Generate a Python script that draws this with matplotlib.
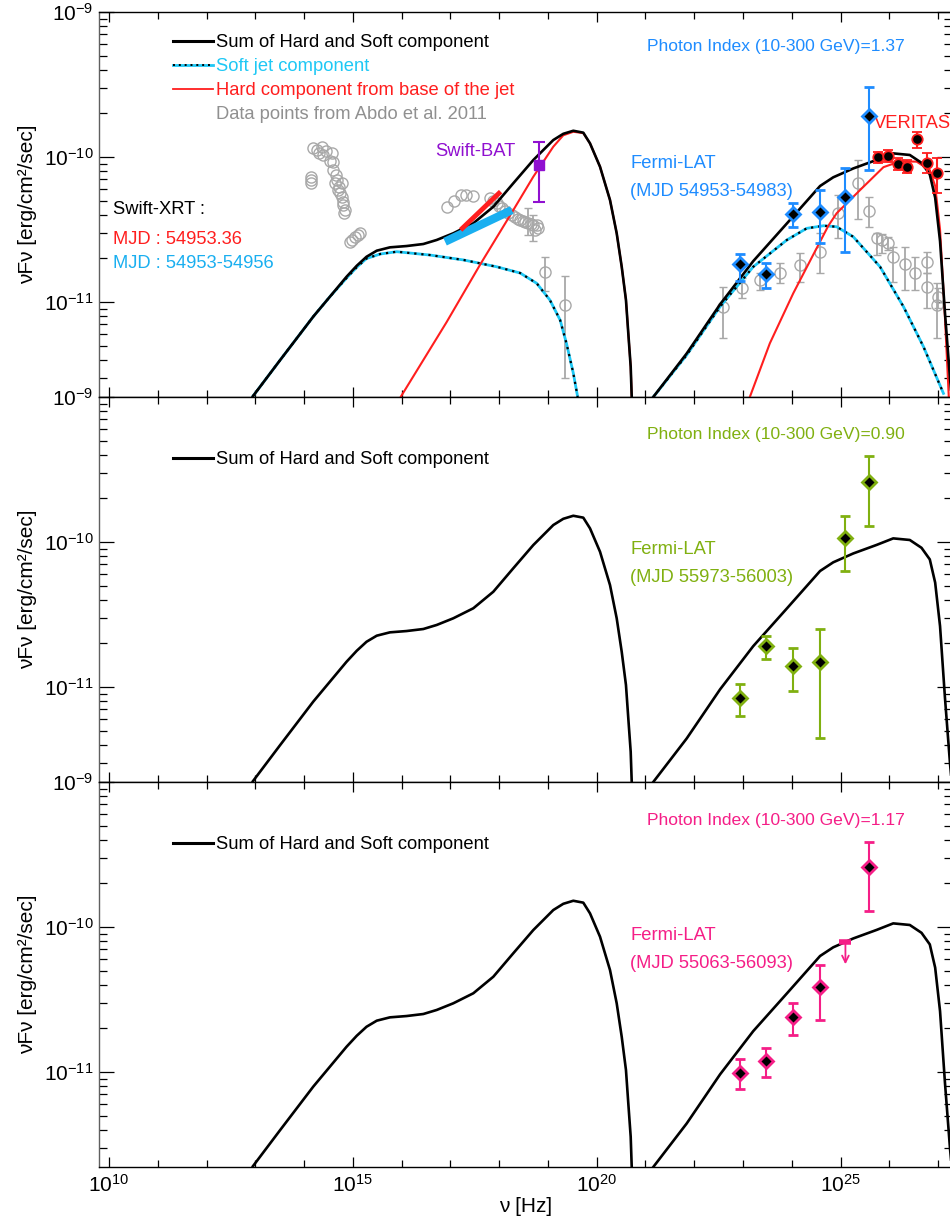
import numpy as np
import matplotlib
matplotlib.use("Agg")
import matplotlib.pyplot as plt
from matplotlib.lines import Line2D
from matplotlib.legend_handler import HandlerTuple
from matplotlib.ticker import FixedLocator, LogFormatterMathtext, NullFormatter

plt.rcParams['font.family'] = ['Liberation Sans', 'DejaVu Sans']
plt.rcParams['mathtext.fontset'] = 'custom'
plt.rcParams['mathtext.rm'] = 'Liberation Sans'
plt.rcParams['mathtext.it'] = 'Liberation Sans:italic'
plt.rcParams['mathtext.bf'] = 'Liberation Sans:bold'
plt.rcParams['axes.unicode_minus'] = False

# ---------------- data (log10 nu [Hz], log10 nuFnu [erg/cm2/s]) ----------------
# model: sum of hard and soft component
sum_sync_lognu = [12.95, 13.51, 13.85, 14.19, 14.53, 14.87, 15.08, 15.28, 15.49, 15.76, 16.10, 16.445,
                  16.72, 17.06, 17.47, 17.88, 18.29, 18.70, 19.11, 19.315, 19.52, 19.725, 19.863,
                  20.068, 20.273, 20.41, 20.513, 20.60, 20.648, 20.697, 20.718]
sum_sync_logf = [-11.65, -11.40, -11.25, -11.10, -10.963, -10.826, -10.75, -10.688, -10.646, -10.623,
                 -10.614, -10.60, -10.572, -10.526, -10.457, -10.343, -10.181, -10.021, -9.883, -9.84,
                 -9.819, -9.832, -9.906, -10.067, -10.297, -10.526, -10.757, -10.986, -11.216, -11.446,
                 -11.653]
sum_ssc_lognu = [21.16, 21.845, 22.53, 23.21, 23.90, 24.58, 24.85, 25.26, 25.74, 26.08, 26.42, 26.66,
                 26.83, 26.94, 27.04, 27.14, 27.245, 27.28]
sum_ssc_logf = [-11.655, -11.355, -11.016, -10.718, -10.458, -10.20, -10.14, -10.079, -10.02, -9.975,
                -9.986, -10.04, -10.12, -10.28, -10.58, -11.07, -11.53, -11.66]
# model: soft jet component
soft_sync_lognu = [12.95, 13.51, 13.85, 14.19, 14.53, 14.87, 15.08, 15.28, 15.56, 15.90, 16.58, 17.27,
                   17.95, 18.43, 18.77, 19.04, 19.25, 19.38, 19.52, 19.61]
soft_sync_logf = [-11.65, -11.40, -11.25, -11.10, -10.963, -10.835, -10.76, -10.70, -10.669, -10.653,
                  -10.676, -10.71, -10.757, -10.80, -10.871, -10.986, -11.124, -11.285, -11.49, -11.655]
soft_ssc_lognu = [21.16, 21.845, 22.53, 23.21, 23.90, 24.306, 24.65, 24.92, 25.26, 25.81, 26.29, 26.70, 27.11]
soft_ssc_logf = [-11.655, -11.366, -11.032, -10.757, -10.572, -10.492, -10.474, -10.481, -10.55,
                 -10.757, -11.032, -11.308, -11.63]
# model: hard component from base of the jet
hard_sync_lognu = [15.98, 16.92, 17.61, 18.29, 18.70, 19.11, 19.315, 19.52, 19.725, 19.863,
                   20.068, 20.273, 20.41, 20.513, 20.60, 20.648, 20.697, 20.718]
hard_sync_logf = [-11.655, -11.14, -10.742, -10.366, -10.136, -9.929, -9.85, -9.826, -9.835,
                  -9.906, -10.067, -10.297, -10.526, -10.757, -10.986, -11.216, -11.446, -11.653]
hard_ssc_lognu = [23.14, 23.55, 24.03, 24.44, 24.75, 24.92, 25.40, 25.88, 26.22, 26.56, 26.83, 26.94,
                  27.04, 27.14, 27.22]
hard_ssc_logf = [-11.655, -11.285, -10.94, -10.674, -10.474, -10.388, -10.228, -10.07, -10.03, -10.032,
                 -10.09, -10.20, -10.50, -11.10, -11.66]

# Abdo et al. 2011 data points (grey)
opt_lognu = [14.26, 14.36, 14.39, 14.57, 14.60, 14.66, 14.63, 14.77, 14.70, 14.74, 14.80, 14.84, 14.14,
             14.14, 14.94, 15.04, 15.15, 14.19, 14.31, 14.45, 14.53, 14.587, 14.67, 14.72, 14.77, 14.80,
             14.82, 14.136, 14.976, 15.11]
opt_logf = [-9.952, -9.933, -9.986, -9.974, -10.037, -10.124, -10.181, -10.181, -10.228, -10.25, -10.331,
            -10.366, -10.136, -10.181, -10.584, -10.554, -10.522, -9.94, -9.975, -9.957, -10.03, -10.09,
            -10.159, -10.209, -10.274, -10.308, -10.388, -10.159, -10.572, -10.538]
xray_lognu = [16.94, 17.07, 17.21, 17.33, 17.46, 17.81, 17.88, 17.95, 18.00, 18.05, 18.12, 18.19, 18.26,
              18.33, 18.38, 18.43, 18.48, 18.53, 18.66, 18.73, 18.80, 18.77]
xray_logf = [-10.343, -10.301, -10.262, -10.262, -10.267, -10.285, -10.30, -10.319, -10.34, -10.354, -10.37,
             -10.388, -10.40, -10.416, -10.43, -10.434, -10.44, -10.446, -10.46, -10.50, -10.49, -10.469]
xray_err_lognu = [18.60, 18.70, 18.94, 19.36]
xray_err_logf = [-10.457, -10.469, -10.791, -11.021]
xray_err_hi = [-10.35, -10.40, -10.691, -10.821]
xray_err_lo = [-10.54, -10.58, -10.922, -11.522]
gam_lognu = [22.58, 22.97, 23.35, 23.76, 24.17, 24.57, 24.95, 25.35, 25.59, 25.74, 25.86, 25.98, 26.07,
             26.32, 26.53, 26.77, 26.77, 26.97, 27.00]
gam_logf = [-11.032, -10.906, -10.848, -10.798, -10.745, -10.653, -10.388, -10.177, -10.370, -10.561,
            -10.572, -10.591, -10.688, -10.738, -10.802, -10.722, -10.894, -11.021, -10.968]
gam_hi = [-10.893, -10.837, -10.802, -10.733, -10.664, -10.526, -10.262, -10.021, -10.278, -10.522,
          -10.53, -10.55, -10.619, -10.619, -10.688, -10.653, -10.802, -10.871, -10.90]
gam_lo = [-11.250, -10.975, -10.917, -10.871, -10.860, -10.802, -10.561, -10.430, -10.481, -10.676,
          -10.66, -10.64, -10.860, -10.917, -10.917, -10.802, -11.043, -11.250, -11.04]

# Swift-XRT bow ties (endpoints) and Swift-BAT
xrt_red_lognu = [17.21, 18.03]
xrt_red_logf = [-10.503, -10.239]
xrt_blue_lognu = [16.89, 18.26]
xrt_blue_logf = [-10.584, -10.366]
bat_lognu = [18.823]
bat_logf = [-10.055]
bat_hi = [-9.894]
bat_lo = [-10.308]

# VERITAS
ver_lognu = [25.774, 25.967, 26.172, 26.369, 26.568, 26.766, 26.971]
ver_logf = [-10.002, -9.991, -10.048, -10.071, -9.878, -10.039, -10.112]
ver_hi = [-9.963, -9.952, -10.009, -10.021, -9.826, -9.970, -10.009]
ver_lo = [-10.043, -10.032, -10.090, -10.112, -9.940, -10.112, -10.250]

# Fermi-LAT
fermi_lognu = [22.94, 23.47, 24.03, 24.58, 25.10, 25.59]
f1_logf = [-10.738, -10.809, -10.393, -10.377, -10.276, -9.715]
f1_hi = [-10.671, -10.729, -10.315, -10.228, -10.078, -9.515]
f1_lo = [-10.853, -10.905, -10.480, -10.595, -10.653, -10.090]
f2_logf = [-11.076, -10.719, -10.852, -10.830, -9.970, -9.586]
f2_hi = [-10.981, -10.648, -10.728, -10.602, -9.823, -9.409]
f2_lo = [-11.202, -10.804, -11.028, -11.349, -10.197, -9.890]
f3_lognu = [22.94, 23.47, 24.03, 24.58, 25.59]
f3_logf = [-11.004, -10.924, -10.621, -10.414, -9.588]
f3_hi = [-10.912, -10.834, -10.521, -10.262, -9.411]
f3_lo = [-11.119, -11.034, -10.742, -10.643, -9.890]
f3_ul_lognu = [25.10]
f3_ul_logf = [-10.101]
f3_ul_tip_logf = [-10.257]

# tick values
xmajor = [1e10, 1e15, 1e20, 1e25]
ymajor = [1e-11, 1e-10, 1e-9]

# ---------------- styles ----------------
C_BLUE = '#1E8CFF'
C_CYAN = '#1EC8F5'
C_XRT = '#1AAFF0'
C_RED = '#FF1E1E'
C_GREY = '#A8A8A8'
C_PURP = '#9010D0'
C_GREEN = '#80B010'
C_PINK = '#F51E87'

def L(a):
    return 10.0 ** np.asarray(a, dtype=float)

def errs(y, lo, hi):
    return [L(y) - L(lo), L(hi) - L(y)]

fig = plt.figure(figsize=(9.5, 12.25), dpi=100)
W, H = 950.0, 1225.0
left = 99 / W
width = (951.5 - 99) / W
ph = 385 / H
bottoms = [(H - 397) / H, (H - 782) / H, (H - 1167) / H]
axes = [fig.add_axes([left, b, width, ph]) for b in bottoms]

XLIM = (10 ** 9.795, 10 ** 27.275)
YLIM = (10 ** -11.655, 1e-9)
FS_T = 13.2
FS_P = 12.6

def draw_sum(ax):
    ax.plot(L(sum_sync_lognu), L(sum_sync_logf), color='black', lw=1.9, zorder=5)
    ax.plot(L(sum_ssc_lognu), L(sum_ssc_logf), color='black', lw=1.9, zorder=5)

def style(ax, last):
    ax.set_xscale('log')
    ax.set_yscale('log')
    ax.set_xlim(*XLIM)
    ax.set_ylim(*YLIM)
    ax.xaxis.set_major_locator(FixedLocator(xmajor))
    ax.xaxis.set_minor_locator(FixedLocator([10.0 ** k for k in range(10, 28)]))
    ax.yaxis.set_major_locator(FixedLocator(ymajor))
    ax.yaxis.set_minor_locator(FixedLocator([m * 10.0 ** e for e in (-12, -11, -10) for m in range(2, 10)]))
    ax.yaxis.set_major_formatter(LogFormatterMathtext())
    ax.yaxis.set_minor_formatter(NullFormatter())
    ax.xaxis.set_minor_formatter(NullFormatter())
    if last:
        ax.xaxis.set_major_formatter(LogFormatterMathtext())
    else:
        ax.xaxis.set_major_formatter(NullFormatter())
    ax.tick_params(axis='both', which='both', direction='in', top=True, right=True, width=0.9, colors='black')
    ax.tick_params(axis='y', which='major', length=11, labelsize=15, pad=4)
    ax.tick_params(axis='y', which='minor', length=6)
    ax.tick_params(axis='x', which='major', length=7, labelsize=15, pad=5)
    ax.tick_params(axis='x', which='minor', length=5)
    for s in ax.spines.values():
        s.set_linewidth(1.0)
    ax.spines['left'].set_color('#606060')
    ax.set_ylabel('νFν [erg/cm²/sec]', fontsize=15)
    ax.yaxis.set_label_coords(-0.0728, 0.5)

def txt(ax, px, py, top, s, color, fs=FS_T):
    return ax.text((px - 99) / 852, (top + 385 - py) / 385, s, color=color, fontsize=fs,
                   transform=ax.transAxes, ha='left', va='center')

# ---------------- panel 1 ----------------
ax = axes[0]
style(ax, False)
ax.errorbar(L(gam_lognu), L(gam_logf), yerr=errs(gam_logf, gam_lo, gam_hi), fmt='o', ms=8, mfc='none',
            mec=C_GREY, mew=1.0, ecolor=C_GREY, elinewidth=1.3, capsize=3, capthick=1.3, zorder=2)
ax.plot(L(opt_lognu), L(opt_logf), 'o', ms=8, mfc='none', mec=C_GREY, mew=1.0, zorder=2)
ax.plot(L(xray_lognu), L(xray_logf), 'o', ms=8, mfc='none', mec=C_GREY, mew=1.0, zorder=2)
ax.errorbar(L(xray_err_lognu), L(xray_err_logf), yerr=errs(xray_err_logf, xray_err_lo, xray_err_hi), fmt='o',
            ms=8, mfc='none', mec=C_GREY, mew=1.0, ecolor=C_GREY, elinewidth=1.3, capsize=3, capthick=1.3,
            zorder=2)

ax.plot(L(soft_sync_lognu), L(soft_sync_logf), color=C_CYAN, lw=2.0, zorder=4)
ax.plot(L(soft_sync_lognu), L(soft_sync_logf), color='black', lw=1.6, ls=(0, (1, 2.2)), zorder=4)
ax.plot(L(soft_ssc_lognu), L(soft_ssc_logf), color=C_CYAN, lw=2.0, zorder=4)
ax.plot(L(soft_ssc_lognu), L(soft_ssc_logf), color='black', lw=1.6, ls=(0, (1, 2.2)), zorder=4)
ax.plot(L(hard_sync_lognu), L(hard_sync_logf), color=C_RED, lw=1.5, zorder=4)
ax.plot(L(hard_ssc_lognu), L(hard_ssc_logf), color=C_RED, lw=1.5, zorder=4)
draw_sum(ax)

ax.plot(L(xrt_blue_lognu), L(xrt_blue_logf), color=C_XRT, lw=6, solid_capstyle='butt', zorder=6)
ax.plot(L(xrt_red_lognu), L(xrt_red_logf), color=C_RED, lw=3.5, solid_capstyle='butt', zorder=6)
ax.errorbar(L(bat_lognu), L(bat_logf), yerr=errs(bat_logf, bat_lo, bat_hi), fmt='s', ms=7.5, mfc=C_PURP,
            mec=C_PURP, ecolor=C_PURP, elinewidth=1.5, capsize=4, capthick=1.5, zorder=7)
ax.errorbar(L(fermi_lognu), L(f1_logf), yerr=errs(f1_logf, f1_lo, f1_hi), fmt='D', ms=7, mfc='black',
            mec=C_BLUE, mew=2.0, ecolor=C_BLUE, elinewidth=1.5, capsize=3.5, capthick=1.5, zorder=7)
ax.errorbar(L(ver_lognu), L(ver_logf), yerr=errs(ver_logf, ver_lo, ver_hi), fmt='o', ms=7.5, mfc='black',
            mec=C_RED, mew=1.3, ecolor=C_RED, elinewidth=1.5, capsize=3.5, capthick=1.5, zorder=7)

h_sum = Line2D([], [], color='black', lw=2.2)
h_soft = (Line2D([], [], color=C_CYAN, lw=2.0), Line2D([], [], color='black', lw=1.4, ls=(0, (1, 2))))
h_hard = Line2D([], [], color=C_RED, lw=1.3)
h_data = Line2D([], [], color='none')
ax.legend([h_sum, h_soft, h_hard, h_data],
          ['Sum of Hard and Soft component', 'Soft jet component',
           'Hard component from base of the jet', 'Data points from Abdo et al. 2011'],
          handler_map={tuple: HandlerTuple(ndivide=1, pad=0)},
          loc='upper left', bbox_to_anchor=((173 - 99) / 852, (397 - 34) / 385), frameon=False,
          fontsize=FS_T, handlelength=2.2, handletextpad=0.12, labelspacing=0.38, borderpad=0,
          borderaxespad=0,
          labelcolor=['black', C_CYAN, C_RED, '#909090'])

txt(ax, 647, 47, 12, 'Photon Index (10-300 GeV)=1.37', C_BLUE, FS_P)
txt(ax, 113, 209, 12, 'Swift-XRT :', 'black')
txt(ax, 113, 240, 12, 'MJD : 54953.36', C_RED)
txt(ax, 113, 263, 12, 'MJD : 54953-54956', C_XRT)
txt(ax, 435, 151, 12, 'Swift-BAT', C_PURP)
txt(ax, 630, 164, 12, 'Fermi-LAT', C_BLUE)
txt(ax, 630, 192, 12, '(MJD 54953-54983)', C_BLUE)
txt(ax, 873, 124, 12, 'VERITAS', C_RED)

# ---------------- panel 2 ----------------
ax = axes[1]
style(ax, False)
draw_sum(ax)
ax.errorbar(L(fermi_lognu), L(f2_logf), yerr=errs(f2_logf, f2_lo, f2_hi), fmt='D', ms=7, mfc='black',
            mec=C_GREEN, mew=2.0, ecolor=C_GREEN, elinewidth=1.5, capsize=3.5, capthick=1.5, zorder=7)
ax.legend([h_sum], ['Sum of Hard and Soft component'], loc='upper left',
          bbox_to_anchor=((173 - 99) / 852, (782 - 451) / 385), frameon=False, fontsize=FS_T,
          handlelength=2.2, handletextpad=0.12, borderpad=0, borderaxespad=0)
txt(ax, 647, 435, 397, 'Photon Index (10-300 GeV)=0.90', C_GREEN, FS_P)
txt(ax, 630, 549, 397, 'Fermi-LAT', C_GREEN)
txt(ax, 630, 577, 397, '(MJD 55973-56003)', C_GREEN)

# ---------------- panel 3 ----------------
ax = axes[2]
style(ax, True)
draw_sum(ax)
ax.errorbar(L(f3_lognu), L(f3_logf), yerr=errs(f3_logf, f3_lo, f3_hi), fmt='D', ms=7, mfc='black',
            mec=C_PINK, mew=2.0, ecolor=C_PINK, elinewidth=1.5, capsize=3.5, capthick=1.5, zorder=7)
ax.plot(L(f3_ul_lognu), L(f3_ul_logf), marker='_', ms=8, mew=4, color=C_PINK, zorder=7)
ax.annotate('', xy=(L(f3_ul_lognu)[0], L(f3_ul_tip_logf)[0]), xytext=(L(f3_ul_lognu)[0], L(f3_ul_logf)[0]),
            arrowprops=dict(arrowstyle='->', color=C_PINK, lw=1.3, mutation_scale=12, shrinkA=0, shrinkB=0),
            zorder=7)
ax.legend([h_sum], ['Sum of Hard and Soft component'], loc='upper left',
          bbox_to_anchor=((173 - 99) / 852, (1167 - 836) / 385), frameon=False, fontsize=FS_T,
          handlelength=2.2, handletextpad=0.12, borderpad=0, borderaxespad=0)
txt(ax, 647, 820, 782, 'Photon Index (10-300 GeV)=1.17', C_PINK, FS_P)
txt(ax, 630, 936, 782, 'Fermi-LAT', C_PINK)
txt(ax, 630, 964, 782, '(MJD 55063-56093)', C_PINK)
ax.set_xlabel('ν [Hz]', fontsize=15)
ax.xaxis.set_label_coords(0.5, -0.078)

fig.savefig('out.png', dpi=100)
